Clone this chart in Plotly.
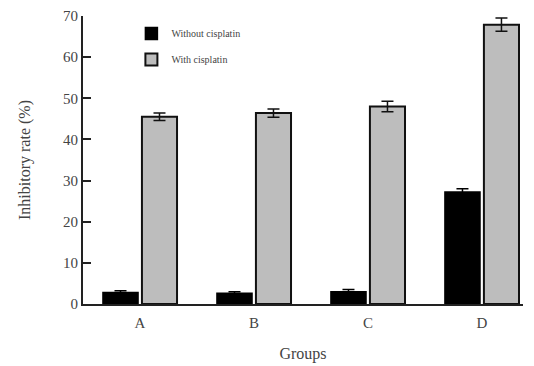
import plotly.graph_objects as go

groups = ["A", "B", "C", "D"]
without_cis = [2.8, 2.6, 3.0, 27.2]
without_err = [0.4, 0.4, 0.5, 0.8]
with_cis = [45.5, 46.4, 48.0, 67.9]
with_err = [0.9, 1.0, 1.3, 1.6]
yticks = [0, 10, 20, 30, 40, 50, 60, 70]

xpos = list(range(len(groups)))
serif = "Liberation Serif, Times New Roman, serif"

fig = go.Figure()
fig.add_trace(go.Bar(
    x=xpos, y=without_cis, name="Without cisplatin", legendgroup="g1",
    marker=dict(color="#000000", line=dict(color="#000000", width=1.5)),
    error_y=dict(type="data", array=without_err, color="#000000", thickness=1.5, width=6),
))
fig.add_trace(go.Bar(
    x=xpos, y=with_cis, name="With cisplatin", legendgroup="g2",
    marker=dict(color="#bdbdbd", line=dict(color="#111111", width=2)),
    error_y=dict(type="data", array=with_err, color="#111111", thickness=1.5, width=6),
))

fig.update_layout(
    width=526, height=358,
    margin=dict(l=75, r=11, t=8, b=62),
    paper_bgcolor="white", plot_bgcolor="white",
    barmode="group", bargap=0.316, bargroupgap=0.1,
    font=dict(family=serif, color="#333333", size=13),
    showlegend=True,
    legend=dict(x=0.11, y=0.99, xanchor="left", yanchor="top", traceorder="grouped",
                bgcolor="rgba(0,0,0,0)", font=dict(size=10, family=serif, color="#444444"),
                itemwidth=30, tracegroupgap=7),
    xaxis=dict(
        range=[-0.5, 3.36], tickmode="array", tickvals=xpos, ticktext=groups,
        showline=True, linecolor="#222222", linewidth=2, ticks="", showgrid=False,
        zeroline=False, tickfont=dict(size=15, family=serif, color="#444444"),
        ticklabelstandoff=4, automargin=False,
        title=dict(text="Groups", font=dict(size=16, family=serif, color="#444444"), standoff=18),
    ),
    yaxis=dict(
        range=[0, 70], tickmode="array", tickvals=yticks,
        showline=True, linecolor="#222222", linewidth=2, ticks="inside", ticklen=8,
        tickcolor="#222222", tickwidth=1.5, showgrid=False, zeroline=False,
        tickfont=dict(size=15, family=serif, color="#444444"), automargin=False,
        title=dict(text="Inhibitory rate (%)", font=dict(size=16, family=serif, color="#444444"), standoff=28),
    ),
)

fig.write_html("out.html")
